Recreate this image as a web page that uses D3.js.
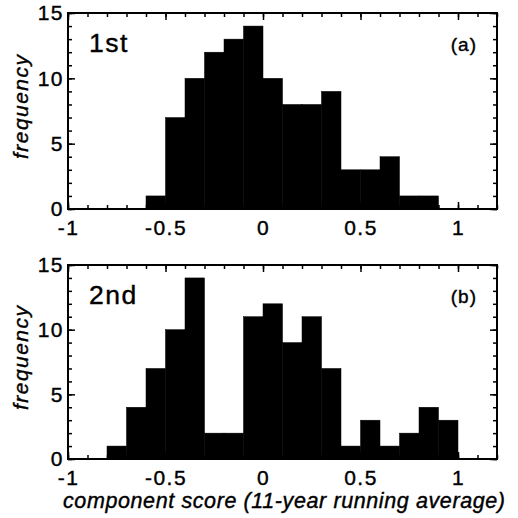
<!DOCTYPE html>
<html>
<head>
<meta charset="utf-8">
<script src="https://cdn.jsdelivr.net/npm/d3@7"></script>
<style>
	body { margin: 0; background: #fff; }
	svg { display: block; font-family: "Liberation Sans", Arial, sans-serif; }
	svg text { stroke: #000; stroke-width: 0.4px; }
	.frame { fill: none; stroke: #000; stroke-width: 2; }
	.axis path { display: none; }
	.axis line { stroke: #000; stroke-width: 1.5; }
	.axis text { font-family: "Liberation Sans", Arial, sans-serif; font-size: 21px; fill: #000; letter-spacing: 1.5px; }
</style>
</head>
<body>
<svg id="chart" width="518" height="518"></svg>
<script>

// bins are 0.1 wide, given by their left edge
var binWidth = 0.1;
var binStart1 = [-0.6, -0.5, -0.4, -0.3, -0.2, -0.1, 0.0, 0.1, 0.2, 0.3, 0.4, 0.5, 0.6, 0.7, 0.8];
var counts1 = [1, 7, 10, 12, 13, 14, 10, 8, 8, 9, 3, 3, 4, 1, 1];
var binStart2 = [-0.8, -0.7, -0.6, -0.5, -0.4, -0.3, -0.2, -0.1, 0.0, 0.1, 0.2, 0.3, 0.4, 0.5, 0.6, 0.7, 0.8, 0.9];
var counts2 = [1, 4, 7, 10, 14, 2, 2, 11, 12, 9, 11, 7, 1, 3, 1, 2, 4, 3];

var xTicks = [-1, -0.5, 0, 0.5, 1];
var xTickLabels = ["-1", "-0.5", "0", "0.5", "1"];
var yTicks = [0, 5, 10, 15];
var panelNames = ["1st", "2nd"];
var panelTags = ["(a)", "(b)"];
var yLabel = "frequency";
var xLabel = "component score (11-year running average)";

var svg = d3.select("#chart");

var x = d3.scaleLinear()
	.domain([-1, 1.2])
	.range([68, 497]);

var xMinor = d3.range(-10, 13).map(function (i) { return i / 10; });
var yMinor = d3.range(0, 16);

function drawPanel(top, bottom, starts, counts, name, tag, showXLabel) {

	var y = d3.scaleLinear()
		.domain([0, 15])
		.range([bottom, top]);

	var g = svg.append("g").attr("class", "panel");

	g.selectAll("rect.bar")
	.data(starts.map(function (s, i) { return {x0: s, x1: s + binWidth, n: counts[i]}; }))
	.enter()
	.append("rect")
	.attr("class", "bar")
	.attr("x", function (d) { return x(d.x0); })
	.attr("y", function (d) { return y(d.n); })
	.attr("width", function (d) { return x(d.x1) - x(d.x0); })
	.attr("height", function (d) { return y(0) - y(d.n); })
	.attr("fill", "#000")
	.attr("stroke", "#000")
	.attr("stroke-width", 0.5);

	// minor ticks, inward on all four sides
	g.append("g").attr("class", "axis")
	.attr("transform", "translate(0," + bottom + ")")
	.call(d3.axisBottom(x).tickValues(xMinor).tickSize(-4).tickFormat(""));
	g.append("g").attr("class", "axis")
	.attr("transform", "translate(0," + top + ")")
	.call(d3.axisTop(x).tickValues(xMinor).tickSize(-4).tickFormat(""));
	g.append("g").attr("class", "axis")
	.attr("transform", "translate(" + x.range()[0] + ",0)")
	.call(d3.axisLeft(y).tickValues(yMinor).tickSize(-4).tickFormat(""));
	g.append("g").attr("class", "axis")
	.attr("transform", "translate(" + x.range()[1] + ",0)")
	.call(d3.axisRight(y).tickValues(yMinor).tickSize(-4).tickFormat(""));

	// major ticks with labels
	g.append("g").attr("class", "axis")
	.attr("transform", "translate(0," + bottom + ")")
	.call(d3.axisBottom(x).tickValues(xTicks).tickSize(-7).tickPadding(11)
		.tickFormat(function (d, i) { return xTickLabels[i]; }));
	g.append("g").attr("class", "axis")
	.attr("transform", "translate(0," + top + ")")
	.call(d3.axisTop(x).tickValues(xTicks).tickSize(-7).tickFormat(""));
	g.append("g").attr("class", "axis")
	.attr("transform", "translate(" + x.range()[0] + ",0)")
	.call(d3.axisLeft(y).tickValues(yTicks).tickSize(-7).tickPadding(4));
	g.append("g").attr("class", "axis")
	.attr("transform", "translate(" + x.range()[1] + ",0)")
	.call(d3.axisRight(y).tickValues(yTicks).tickSize(-7).tickFormat(""));

	g.append("rect")
	.attr("class", "frame")
	.attr("x", x.range()[0])
	.attr("y", top)
	.attr("width", x.range()[1] - x.range()[0])
	.attr("height", bottom - top);

	g.append("text")
	.text(name)
	.attr("x", x.range()[0] + 21)
	.attr("y", top + 39)
	.attr("font-size", 26.5)
	.attr("letter-spacing", 1.5);

	g.append("text")
	.text(tag)
	.attr("text-anchor", "end")
	.attr("x", x.range()[1] - 20)
	.attr("y", top + 38)
	.attr("font-size", 19)
	.attr("letter-spacing", 1);

	g.append("text")
	.text(yLabel)
	.attr("text-anchor", "middle")
	.attr("font-style", "italic")
	.attr("font-size", 21)
	.attr("textLength", 104)
	.attr("lengthAdjust", "spacing")
	.attr("transform", "translate(28," + ((top + bottom) / 2 - 4) + ") rotate(-90)");

	if (showXLabel) {
		g.append("text")
		.text(xLabel)
		.attr("text-anchor", "middle")
		.attr("font-style", "italic")
		.attr("font-size", 21.5)
		.attr("textLength", 442)
		.attr("lengthAdjust", "spacing")
		.attr("x", 284)
		.attr("y", bottom + 49);
	}
}

drawPanel(13, 209, binStart1, counts1, panelNames[0], panelTags[0], false);
drawPanel(265, 459, binStart2, counts2, panelNames[1], panelTags[1], true);

</script>
</body>
</html>
